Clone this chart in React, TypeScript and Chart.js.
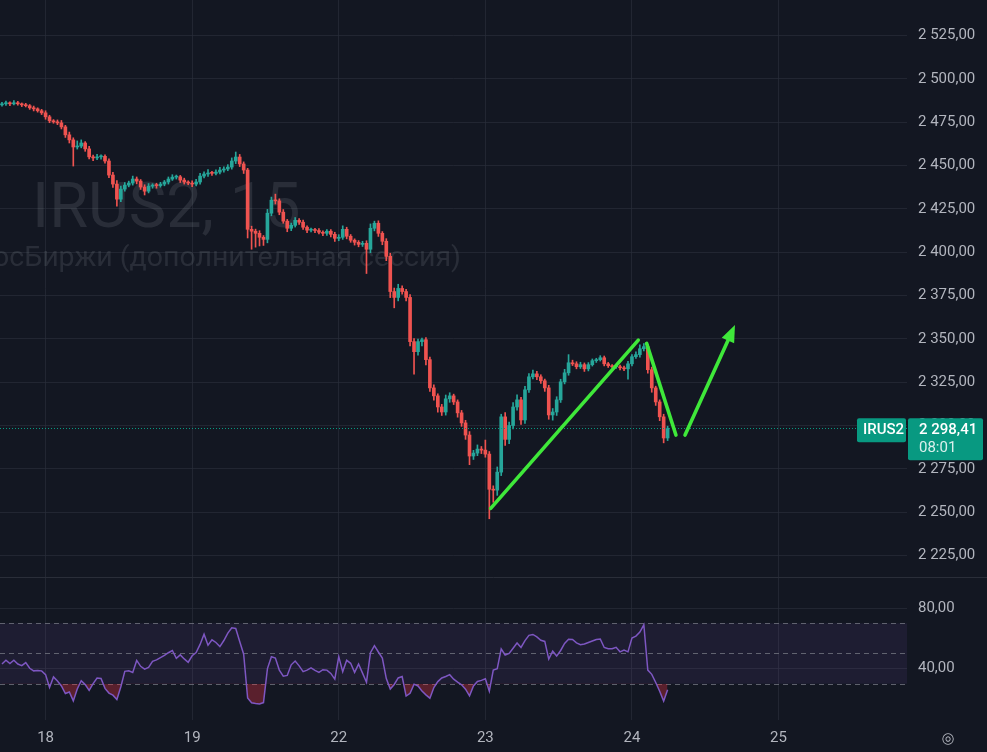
import React, { useEffect, useRef } from "react";
import { Chart, registerables } from "chart.js";

Chart.register(...registerables);

const W = 987;
const H = 752;
const PRICE_H = 577;
const BG = "#131722";
const GRID = "rgba(42,46,57,0.7)";
const TEXT = "#b2b5be";
const UP = "#26a69a";
const DOWN = "#ef5350";
const LABEL = "#089981";
const ARROW = "#3fe83a";
const FONT = 'Roboto, "Noto Sans", sans-serif';

// ---- data (15-minute bars) ----
const firstOpen = 2485.0;
const closes = [
  2485.6, 2486.2, 2485.6, 2486.2, 2485.6, 2485.0, 2484.5, 2483.3, 2482.7, 2481.6,
  2480.4, 2478.1, 2475.8, 2475.2, 2474.6, 2472.3, 2467.7, 2464.8, 2460.7, 2461.2,
  2463.0, 2459.6, 2455.0, 2454.4, 2455.0, 2455.3, 2452.6, 2444.5, 2439.3, 2430.6,
  2436.4, 2438.7, 2439.9, 2442.2, 2441.0, 2437.6, 2435.2, 2438.1, 2438.7, 2438.4,
  2439.3, 2440.5, 2442.2, 2443.3, 2443.5, 2441.6, 2440.5, 2439.9, 2439.3, 2440.5,
  2443.9, 2445.1, 2445.7, 2445.5, 2446.2, 2447.4, 2448.0, 2449.1, 2452.6, 2454.9,
  2450.9, 2447.4, 2413.2, 2412.1, 2410.9, 2408.6, 2407.4, 2422.5, 2430.0, 2429.6,
  2423.1, 2417.9, 2413.8, 2415.5, 2418.4, 2417.3, 2414.4, 2412.7, 2412.9, 2412.5,
  2411.5, 2410.9, 2412.1, 2410.3, 2408.0, 2408.6, 2413.2, 2409.2, 2406.9, 2405.7,
  2404.5, 2405.1, 2401.7, 2413.8, 2416.7, 2410.9, 2406.3, 2397.6, 2377.3, 2373.9,
  2379.1, 2377.3, 2373.9, 2348.4, 2342.6, 2348.4, 2349.5, 2338.0, 2321.7, 2317.1,
  2310.7, 2307.8, 2315.4, 2317.1, 2313.6, 2307.3, 2301.5, 2294.5, 2282.4, 2284.1,
  2286.4, 2285.8, 2283.5, 2263.2, 2262.7, 2273.1, 2305.0, 2292.0, 2300.0, 2310.7,
  2314.8, 2303.2, 2320.6, 2328.1, 2329.8, 2328.1, 2325.8, 2321.7, 2306.1, 2307.8,
  2314.8, 2325.2, 2330.4, 2336.2, 2335.6, 2333.9, 2335.1, 2332.7, 2335.1, 2337.4,
  2338.0, 2339.1, 2335.6, 2334.5, 2333.9, 2333.9, 2333.3, 2332.7, 2335.6, 2339.7,
  2340.9, 2344.3, 2345.5, 2332.2, 2321.7, 2313.6, 2305.0, 2292.8, 2298.41,
];
const upperWicks = [
  0.8, 1.0, 0.6, 1.2, 0.8, 0.5, 0.9, 0.7, 1.0, 0.6,
  0.8, 1.2, 0.9, 0.7, 1.1, 1.4, 0.9, 1.6, 1.2, 3.0,
  1.8, 0.8, 1.5, 1.0, 1.4, 0.9, 0.8, 1.2, 1.6, 2.0,
  1.8, 1.5, 1.1, 1.7, 1.2, 0.9, 1.3, 1.5, 0.8, 1.1,
  1.0, 0.9, 1.2, 1.4, 1.0, 0.8, 1.1, 0.7, 1.2, 1.5,
  1.6, 1.2, 2.0, 1.0, 1.3, 1.5, 1.2, 1.4, 1.8, 2.9,
  1.5, 1.2, 1.0, 1.8, 1.2, 1.5, 1.0, 2.2, 1.8, 3.5,
  1.2, 1.5, 1.0, 1.3, 1.6, 1.0, 1.2, 0.8, 1.0, 0.9,
  1.1, 0.8, 1.0, 0.9, 1.2, 1.5, 2.0, 1.2, 1.0, 0.8,
  1.0, 1.2, 1.5, 2.5, 1.2, 1.4, 1.0, 1.5, 1.8, 2.0,
  2.4, 1.5, 1.2, 1.6, 1.8, 1.5, 1.0, 1.2, 1.5, 1.8,
  1.2, 1.5, 2.2, 1.8, 1.0, 1.2, 1.4, 1.5, 2.0, 1.6,
  2.4, 1.5, 5.8, 1.5, 2.0, 3.0, 1.5, 2.5, 2.0, 2.5,
  2.9, 1.5, 2.0, 1.8, 2.2, 1.5, 1.2, 1.0, 1.5, 2.0,
  1.8, 1.5, 2.0, 4.7, 1.5, 1.2, 1.4, 1.0, 1.2, 1.0,
  0.8, 1.2, 1.0, 0.8, 0.6, 0.7, 0.9, 1.0, 1.5, 1.2,
  1.6, 2.3, 1.8, 1.2, 1.5, 1.0, 1.2, 1.5, 1.2,
];
const lowerWicks = [
  0.7, 0.9, 1.0, 0.6, 0.8, 1.0, 0.7, 0.9, 1.2, 0.8,
  1.0, 1.4, 1.1, 0.8, 1.0, 1.2, 1.5, 1.8, 11.0, 1.2,
  1.0, 1.4, 1.2, 1.6, 1.0, 1.3, 1.2, 1.5, 2.0, 4.0,
  1.5, 1.2, 1.0, 1.2, 1.6, 1.4, 2.2, 1.0, 1.2, 1.5,
  0.9, 1.0, 1.2, 0.8, 1.1, 1.4, 1.2, 1.0, 1.5, 1.0,
  1.2, 1.0, 1.4, 1.2, 0.9, 1.0, 1.3, 1.0, 1.2, 1.5,
  1.5, 2.0, 5.0, 10.4, 8.0, 5.0, 3.5, 2.0, 1.5, 1.8,
  1.5, 1.2, 2.0, 1.4, 1.0, 1.3, 1.2, 1.5, 1.0, 1.2,
  1.0, 1.4, 1.2, 1.5, 1.8, 1.4, 1.2, 1.5, 1.2, 1.6,
  1.4, 1.2, 14.0, 2.0, 1.5, 1.8, 2.0, 2.5, 3.5, 6.0,
  2.0, 1.5, 2.0, 2.5, 13.0, 2.0, 2.5, 3.0, 2.0, 2.5,
  3.0, 2.0, 1.8, 2.0, 1.5, 2.5, 2.0, 2.5, 5.0, 2.0,
  1.5, 2.0, 1.8, 17.0, 7.0, 3.0, 2.0, 3.5, 2.5, 2.0,
  1.8, 2.5, 2.0, 1.5, 1.2, 1.6, 1.5, 2.0, 2.5, 3.0,
  2.0, 1.5, 1.2, 1.4, 1.0, 1.2, 1.0, 1.5, 1.2, 0.8,
  1.0, 0.8, 1.2, 1.0, 0.8, 1.0, 1.2, 1.0, 6.0, 1.2,
  1.0, 1.5, 1.2, 2.0, 2.5, 2.0, 2.2, 2.8, 1.5,
];
const rsiValues = [
  43, 45.5, 43.3, 45.5, 43, 42, 44, 40.2, 38.5, 38.8,
  38.5, 36, 27.5, 34.5, 31.8, 28.5, 23.5, 24.5, 18.6, 26.5,
  32, 29.4, 25.6, 30, 33.8, 33.5, 26.9, 23.8, 22.4, 19.5,
  28, 38.2, 38.6, 37.5, 45.4, 41.5, 39.6, 40.8, 44.8, 45.8,
  47.3, 48.8, 50.5, 52, 46.8, 49.1, 46.4, 44.2, 48.5, 50.6,
  56, 62.8, 55.5, 59.1, 57.3, 54.6, 58.6, 63.5, 67, 66.6,
  58, 49.5, 20.5, 17.4, 16.9, 16.6, 17.5, 40, 47.9, 47,
  39, 35, 35.5, 42.5, 45, 41.8, 38, 39, 40.5, 38.8,
  37.5, 39.3, 39, 36.8, 33, 47.9, 38, 45.5, 43.5, 37.5,
  43, 37, 31, 50.5, 55.2, 51, 47, 33.4, 26.5, 29.5,
  33.8, 34.7, 21.8, 23.6, 29.7, 28.5, 25.2, 22.6, 20.4, 27.5,
  31.4, 33.8, 34.8, 36, 33, 31, 29.3, 26.4, 22, 28.5,
  31.5, 32.2, 33.3, 25, 39, 40, 53, 49, 50, 53.5,
  57, 54, 58.5, 62, 62.6, 61, 58.8, 58, 46.3, 51.5,
  48.3, 52, 56.7, 59.4, 59.3, 57, 55.8, 56.3, 57.3, 58.3,
  59.3, 59.6, 54, 53.1, 53.1, 54.1, 51.1, 52.2, 51.1, 60.2,
  61.5, 64.2, 69, 39, 36.2, 30.8, 25, 18.5, 26,
];

const dayLabels = ["18", "19", "22", "23", "24", "25"];
const dayStartIndex = [11, 48, 85, 122, 159, 196];
const priceTicks = [2225, 2250, 2275, 2300, 2325, 2350, 2375, 2400, 2425, 2450, 2475, 2500, 2525];
const priceRange = [2212.6, 2545.5];
const indexRange = [-0.5, 228.42];
const rsiTicks = [40, 80];
const rsiRange = [5.96, 100.66];
const rsiLevels = [70, 50, 30];
const lastPrice = 2298.41;
const countdown = "08:01";
const symbol = "IRUS2";
const watermarkTitle = "IRUS2, 15";
const watermarkSubtitle = "МосБиржи (дополнительная сессия)";
// hand-drawn arrows, in (bar index, price) coordinates
const arrowSegments = [
  { from: [123.35, 2252.2], to: [160.6, 2349.3], head: false },
  { from: [162.7, 2347.4], to: [170.1, 2294.5], head: false },
  { from: [172.4, 2294.5], to: [185.0, 2358.0], head: true },
];

function fmt(v: number): string {
  const s = v.toFixed(2);
  const [i, d] = s.split(".");
  return i.replace(/\B(?=(\d{3})+(?!\d))/g, " ") + "," + d;
}

function roundRect(ctx: CanvasRenderingContext2D, x: number, y: number, w: number, h: number, r: number) {
  ctx.beginPath();
  ctx.moveTo(x + r, y);
  ctx.lineTo(x + w - r, y);
  ctx.quadraticCurveTo(x + w, y, x + w, y + r);
  ctx.lineTo(x + w, y + h - r);
  ctx.quadraticCurveTo(x + w, y + h, x + w - r, y + h);
  ctx.lineTo(x + r, y + h);
  ctx.quadraticCurveTo(x, y + h, x, y + h - r);
  ctx.lineTo(x, y + r);
  ctx.quadraticCurveTo(x, y, x + r, y);
  ctx.closePath();
}

export default function App() {
  const priceRef = useRef<HTMLCanvasElement>(null);
  const rsiRef = useRef<HTMLCanvasElement>(null);

  useEffect(() => {
    const opens = closes.map((c, i) => (i === 0 ? firstOpen : closes[i - 1]));
    const highs = closes.map((c, i) => Math.max(opens[i], c) + upperWicks[i]);
    const lows = closes.map((c, i) => Math.min(opens[i], c) - lowerWicks[i]);
    const colors = closes.map((c, i) => (c >= opens[i] ? UP : DOWN));
    const bodyData = closes.map((c, i) => ({ x: i, y: [opens[i], c] }));
    const wickData = closes.map((c, i) => ({ x: i, y: [lows[i], highs[i]] }));

    const pricePlugin = {
      id: "priceOverlay",
      beforeDatasetsDraw(chart: any) {
        const { ctx, chartArea: a } = chart;
        ctx.save();
        ctx.beginPath();
        ctx.rect(a.left, a.top, a.right - a.left, a.bottom - a.top);
        ctx.clip();
        ctx.fillStyle = "rgba(178,181,190,0.14)";
        ctx.textBaseline = "alphabetic";
        ctx.textAlign = "left";
        ctx.font = `63px ${FONT}`;
        ctx.fillText(watermarkTitle, 32, 227);
        ctx.textAlign = "right";
        ctx.font = `28.5px ${FONT}`;
        ctx.fillText(watermarkSubtitle, 461, 266);
        ctx.restore();
      },
      afterDatasetsDraw(chart: any) {
        const { ctx, chartArea: a } = chart;
        const xs = chart.scales.x;
        const ys = chart.scales.y;
        const py = Math.round(ys.getPixelForValue(lastPrice)) + 0.5;
        ctx.save();
        ctx.strokeStyle = LABEL;
        ctx.lineWidth = 1;
        ctx.setLineDash([1, 2]);
        ctx.beginPath();
        ctx.moveTo(a.left, py);
        ctx.lineTo(a.right, py);
        ctx.stroke();
        ctx.setLineDash([]);
        ctx.strokeStyle = ARROW;
        ctx.fillStyle = ARROW;
        ctx.lineWidth = 3.6;
        ctx.lineCap = "round";
        for (const s of arrowSegments) {
          const x1 = xs.getPixelForValue(s.from[0]);
          const y1 = ys.getPixelForValue(s.from[1]);
          const x2 = xs.getPixelForValue(s.to[0]);
          const y2 = ys.getPixelForValue(s.to[1]);
          if (!s.head) {
            ctx.beginPath();
            ctx.moveTo(x1, y1);
            ctx.lineTo(x2, y2);
            ctx.stroke();
          } else {
            const dx = x2 - x1;
            const dy = y2 - y1;
            const len = Math.hypot(dx, dy);
            const ux = dx / len;
            const uy = dy / len;
            const hl = 17;
            const hw = 6.8;
            const bx = x2 - ux * hl;
            const by = y2 - uy * hl;
            ctx.beginPath();
            ctx.moveTo(x1, y1);
            ctx.lineTo(bx + ux * 2, by + uy * 2);
            ctx.stroke();
            ctx.beginPath();
            ctx.moveTo(x2, y2);
            ctx.lineTo(bx - uy * hw, by + ux * hw);
            ctx.lineTo(bx + uy * hw, by - ux * hw);
            ctx.closePath();
            ctx.fill();
          }
        }
        ctx.restore();
      },
      afterDraw(chart: any) {
        const { ctx, chartArea: a } = chart;
        const ys = chart.scales.y;
        const py = ys.getPixelForValue(lastPrice);
        ctx.save();
        ctx.fillStyle = LABEL;
        roundRect(ctx, a.right + 1, py - 10, 75, 42, 2);
        ctx.fill();
        roundRect(ctx, a.right - 50, py - 10, 49, 24, 2);
        ctx.fill();
        ctx.fillStyle = "#ffffff";
        ctx.textBaseline = "middle";
        ctx.textAlign = "left";
        ctx.font = `500 15px ${FONT}`;
        ctx.fillText(fmt(lastPrice), a.right + 12, py + 1.5);
        ctx.fillText(symbol, a.right - 44, py + 2);
        ctx.fillStyle = "rgba(255,255,255,0.85)";
        ctx.font = `15px ${FONT}`;
        ctx.fillText(countdown, a.right + 12, py + 20);
        ctx.restore();
      },
    };

    const priceChart = new Chart(priceRef.current as HTMLCanvasElement, {
      type: "bar",
      data: {
        datasets: [
          {
            label: "wicks",
            data: wickData as any,
            backgroundColor: colors,
            barThickness: 1,
            grouped: false,
            order: 2,
          } as any,
          {
            label: "bodies",
            data: bodyData as any,
            backgroundColor: colors,
            barThickness: 3,
            minBarLength: 1,
            grouped: false,
            order: 1,
          } as any,
        ],
      },
      options: {
        animation: false,
        responsive: false,
        devicePixelRatio: 1,
        layout: { padding: 0 },
        plugins: { legend: { display: false }, tooltip: { enabled: false } },
        scales: {
          x: {
            type: "linear",
            min: indexRange[0],
            max: indexRange[1],
            offset: false,
            grid: { color: GRID, drawTicks: false, offset: false },
            border: { display: false },
            ticks: { display: false },
            afterBuildTicks: (s: any) => {
              s.ticks = dayStartIndex.map((v) => ({ value: v }));
            },
            afterFit: (s: any) => {
              s.height = 0;
              s.paddingLeft = 0;
              s.paddingRight = 0;
            },
          },
          y: {
            position: "right",
            min: priceRange[0],
            max: priceRange[1],
            grid: { color: GRID, drawTicks: false },
            border: { display: false },
            ticks: {
              color: TEXT,
              font: { family: FONT, size: 15 },
              padding: 11,
              callback: (v: any) => fmt(Number(v)),
            },
            afterBuildTicks: (s: any) => {
              s.ticks = priceTicks.map((v) => ({ value: v }));
            },
            afterFit: (s: any) => {
              s.width = 80;
              s.paddingTop = 0;
              s.paddingBottom = 0;
            },
          },
        },
      } as any,
      plugins: [pricePlugin],
    });

    const rsiPlugin = {
      id: "rsiOverlay",
      beforeDatasetsDraw(chart: any) {
        const { ctx, chartArea: a } = chart;
        const ys = chart.scales.y;
        const yTop = ys.getPixelForValue(rsiLevels[0]);
        const yBot = ys.getPixelForValue(rsiLevels[2]);
        ctx.save();
        ctx.fillStyle = "rgba(126,87,194,0.1)";
        ctx.fillRect(a.left, yTop, a.right - a.left, yBot - yTop);
        ctx.strokeStyle = "rgba(120,123,134,0.75)";
        ctx.lineWidth = 1;
        ctx.setLineDash([5, 4]);
        for (const lv of rsiLevels) {
          const py = Math.round(ys.getPixelForValue(lv)) + 0.5;
          ctx.beginPath();
          ctx.moveTo(a.left, py);
          ctx.lineTo(a.right, py);
          ctx.stroke();
        }
        ctx.restore();
      },
      afterDraw(chart: any) {
        const { ctx } = chart;
        ctx.save();
        ctx.strokeStyle = "#2a2e39";
        ctx.lineWidth = 1;
        ctx.beginPath();
        ctx.moveTo(0, 0.5);
        ctx.lineTo(chart.width, 0.5);
        ctx.stroke();
        ctx.fillStyle = TEXT;
        ctx.font = `15px "DejaVu Sans", sans-serif`;
        ctx.textAlign = "center";
        ctx.textBaseline = "middle";
        ctx.fillText("◎", chart.width - 39, 162);
        ctx.restore();
      },
    };

    const rsiChart = new Chart(rsiRef.current as HTMLCanvasElement, {
      type: "line",
      data: {
        datasets: [
          {
            label: "RSI",
            data: rsiValues.map((v, i) => ({ x: i, y: v })),
            borderColor: "#7e57c2",
            borderWidth: 1.5,
            pointRadius: 0,
            tension: 0,
            fill: {
              target: { value: 30 },
              above: "rgba(0,0,0,0)",
              below: "rgba(242,54,69,0.32)",
            },
          } as any,
        ],
      },
      options: {
        animation: false,
        responsive: false,
        devicePixelRatio: 1,
        layout: { padding: 0 },
        plugins: { legend: { display: false }, tooltip: { enabled: false } },
        scales: {
          x: {
            type: "linear",
            min: indexRange[0],
            max: indexRange[1],
            offset: false,
            grid: { color: GRID, drawTicks: false, offset: false },
            border: { display: false },
            ticks: {
              color: TEXT,
              font: { family: FONT, size: 15 },
              padding: 9,
              maxRotation: 0,
              autoSkip: false,
              callback: (v: any) => {
                const k = dayStartIndex.indexOf(Number(v));
                return k >= 0 ? dayLabels[k] : "";
              },
            },
            afterBuildTicks: (s: any) => {
              s.ticks = dayStartIndex.map((v) => ({ value: v }));
            },
            afterFit: (s: any) => {
              s.height = 32;
              s.paddingLeft = 0;
              s.paddingRight = 0;
            },
          },
          y: {
            position: "right",
            min: rsiRange[0],
            max: rsiRange[1],
            grid: { color: GRID, drawTicks: false },
            border: { display: false },
            ticks: {
              color: TEXT,
              font: { family: FONT, size: 15 },
              padding: 11,
              callback: (v: any) => fmt(Number(v)),
            },
            afterBuildTicks: (s: any) => {
              s.ticks = rsiTicks.map((v) => ({ value: v }));
            },
            afterFit: (s: any) => {
              s.width = 80;
              s.paddingTop = 0;
              s.paddingBottom = 0;
            },
          },
        },
      } as any,
      plugins: [rsiPlugin],
    });

    return () => {
      priceChart.destroy();
      rsiChart.destroy();
    };
  }, []);

  return (
    <div
      style={{
        position: "fixed",
        left: 0,
        top: 0,
        width: W,
        height: H,
        background: BG,
        overflow: "hidden",
      }}
    >
      <canvas
        ref={priceRef}
        width={W}
        height={PRICE_H}
        style={{ position: "absolute", left: 0, top: 0, width: W, height: PRICE_H }}
      />
      <canvas
        ref={rsiRef}
        width={W}
        height={H - PRICE_H}
        style={{ position: "absolute", left: 0, top: PRICE_H, width: W, height: H - PRICE_H }}
      />
    </div>
  );
}
